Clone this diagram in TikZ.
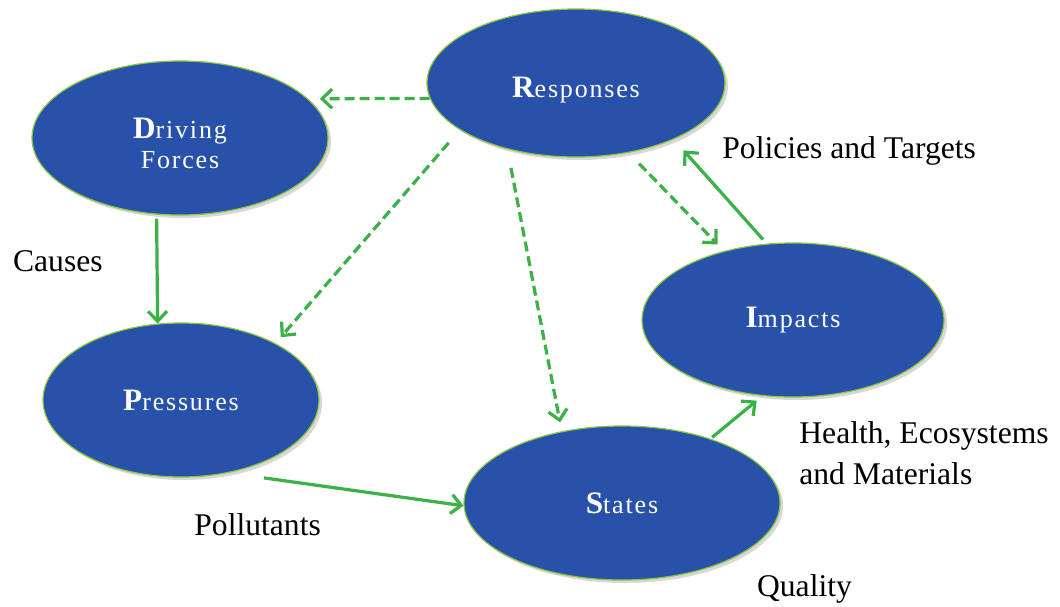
\documentclass[tikz,border=0pt]{standalone}
\usepackage{fontspec}
\setmainfont{Liberation Serif}
\newfontfamily\nodefont[LetterSpace=7]{Liberation Serif}
\usetikzlibrary{shapes.geometric,arrows.meta,shadows}
\definecolor{blobblue}{RGB}{40,82,170}
\definecolor{blobedge}{RGB}{140,198,63}
\definecolor{arrgreen}{RGB}{58,178,72}
\newcommand\firstletter[1]{{\fontsize{15.6}{15}\selectfont\bfseries #1}}
\begin{document}
\begin{tikzpicture}[x=0.5pt,y=-0.5pt,
  blob/.style={ellipse, inner sep=0pt, fill=blobblue, draw=blobedge, line width=0.6pt,
    text=white, align=center, font=\nodefont\fontsize{13}{15}\selectfont,
    drop shadow={shadow xshift=1.5pt,shadow yshift=-1.5pt,opacity=0.3}},
  lab/.style={anchor=base west, inner sep=0pt, font=\fontsize{15.8}{20.3}\selectfont},
  link/.style={draw=arrgreen, line width=1.6pt, -{Straight Barb[length=5pt,width=9.5pt]}},
  dlink/.style={link, dash pattern=on 5pt off 2.5pt}]
\fill[white] (0,0) rectangle (1060,606);
\useasboundingbox (0,0) rectangle (1060,606);

\node[blob, minimum width=148pt, minimum height=77pt, text height=30pt, text depth=0pt] (drv) at (180,138) {\firstletter{D}riving\\Forces};
\node[blob, minimum width=149pt, minimum height=74pt, text height=17pt] (resp) at (576,83) {\firstletter{R}esponses};
\node[blob, minimum width=138pt, minimum height=77pt] (press) at (181,400) {\firstletter{P}ressures};
\node[blob, minimum width=158pt, minimum height=77pt] (states) at (622,503) {\firstletter{S}tates};
\node[blob, minimum width=151pt, minimum height=77pt] (imp) at (793,320) {\firstletter{I}mpacts};

\node[lab] (causes) at (12.7,271.7) {Causes};
\node[lab] (policies) at (722,158.3) {Policies and Targets};
\node[lab] (health) at (799,443.3) {Health, Ecosystems};
\node[lab] (materials) at (799,484) {and Materials};
\node[lab] (poll) at (194,535) {Pollutants};
\node[lab] (qual) at (756.7,596.7) {Quality};

\draw[dlink, shorten >=5.75pt] (resp.186) -- (drv.17.5);
\draw[dlink, shorten <=8.5pt, shorten >=4pt] (resp.202.3) -- (press.31);
\draw[dlink, shorten <=9.5pt, shorten >=4.5pt] (resp.224.3) -- (states.130.3);
\draw[dlink, shorten <=7.5pt, shorten >=4.5pt] (resp.307.9) -- (imp.135.6);
\draw[link, shorten <=2.75pt, shorten >=7.3pt] (imp.109.1) -- (resp.330);
\draw[link, shorten <=2pt] (drv.253.2) -- (press.107.6);
\draw[link, shorten <=18pt] (press.303.9) -- (states.181);
\draw[link, shorten <=1pt, shorten >=3.65pt] (states.36.8) -- (imp.248.1);
\end{tikzpicture}
\end{document}
